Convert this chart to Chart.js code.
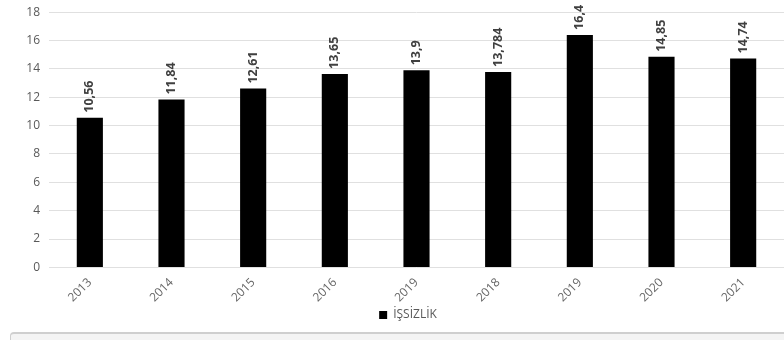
<!DOCTYPE html>
<html>
<head>
<meta charset="utf-8">
<script src="https://cdn.jsdelivr.net/npm/chart.js@4/dist/chart.umd.min.js"></script>
<style>
  html, body { margin: 0; padding: 0; background: #fff; overflow: hidden; }
  #wrap { position: relative; width: 784px; height: 340px; overflow: hidden; }
  #chart { position: absolute; left: 0; top: -4px; }
  #bar-strip { position: absolute; left: 10px; top: 332px; width: 774px; height: 8px;
    border-top: 2px solid #cfcfcf; border-left: 1px solid #cfcfcf; border-top-left-radius: 4px; background: #f4f4f4; }
</style>
</head>
<body>
<div id="wrap">
  <canvas id="chart" width="784" height="344"></canvas>
  <div id="bar-strip"></div>
</div>
<script>
const years = ['2013', '2014', '2015', '2016', '2019', '2018', '2019', '2020', '2021'];
const unemployment = [10.56, 11.84, 12.61, 13.65, 13.9, 13.784, 16.4, 14.85, 14.74];
const yTicks = [0, 2, 4, 6, 8, 10, 12, 14, 16, 18];

// values drawn rotated above each bar, with a decimal comma
const valueLabels = {
    id: 'valueLabels',
    afterLayout(chart) {
        // legend sits a little right of centre in the original
        chart.legend.left += 16;
        chart.legend.right += 16;
    },
    afterDatasetsDraw(chart) {
        const ctx = chart.ctx;
        const meta = chart.getDatasetMeta(0);
        ctx.save();
        ctx.fillStyle = '#404040';
        ctx.font = 'bold 12.5px "Open Sans", sans-serif';
        ctx.textAlign = 'left';
        ctx.textBaseline = 'middle';
        meta.data.forEach((bar, i) => {
            ctx.save();
            ctx.translate(bar.x, bar.y - 5);
            ctx.rotate(-Math.PI / 2);
            ctx.fillText(String(unemployment[i]).replace('.', ','), 0, 0);
            ctx.restore();
        });
        ctx.restore();
    }
};

new Chart(document.getElementById('chart'), {
    type: 'bar',
    data: {
        labels: years,
        datasets: [{
            label: 'İŞSİZLİK',
            data: unemployment,
            backgroundColor: '#000',
            borderWidth: 0,
            categoryPercentage: 1,
            barPercentage: 0.32
        }]
    },
    options: {
        responsive: false,
        animation: false,
        layout: { padding: { top: 0, right: 0, left: 0, bottom: 9 } },
        plugins: {
            tooltip: { enabled: false },
            legend: {
                position: 'bottom',
                labels: {
                    boxWidth: 8, boxHeight: 8, padding: 4,
                    color: '#595959',
                    font: { family: '"Open Sans", sans-serif', size: 12 }
                }
            }
        },
        scales: {
            x: {
                grid: { display: false },
                border: { display: false },
                ticks: {
                    color: '#666',
                    padding: 0,
                    maxRotation: 45, minRotation: 45,
                    font: { family: '"Open Sans", sans-serif', size: 12 }
                }
            },
            y: {
                min: 0, max: 18,
                afterFit(scale) { scale.width = 49; },
                afterBuildTicks(scale) { scale.ticks = yTicks.map(v => ({ value: v })); },
                grid: { color: '#e0e0e0', drawTicks: false },
                border: { display: false },
                ticks: {
                    color: '#595959', padding: 9,
                    font: { family: '"Open Sans", sans-serif', size: 12 }
                }
            }
        }
    },
    plugins: [valueLabels]
});
</script>
</body>
</html>
